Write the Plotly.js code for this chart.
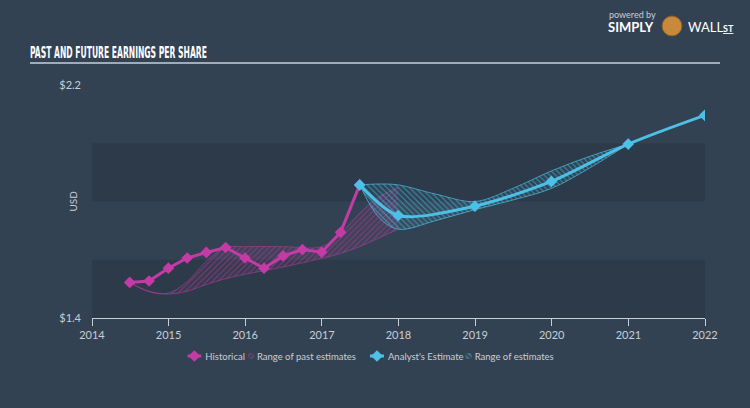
<!DOCTYPE html>
<html>
<head>
<meta charset="utf-8">
<script src="https://cdn.plot.ly/plotly-3.0.1.min.js"></script>
<style>
html,body{margin:0;padding:0;background:#334252;}
#chart{width:750px;height:408px;}
</style>
</head>
<body>
<div id="chart"></div>
<script>
// ---- data ----
const histDates = ["2014-06-30","2014-09-30","2014-12-31","2015-03-31","2015-06-30","2015-09-30","2015-12-31","2016-03-31","2016-06-30","2016-09-30","2016-12-31","2017-03-31","2017-06-30"];
const histEPS   = [1.522,1.527,1.571,1.606,1.625,1.642,1.606,1.571,1.613,1.635,1.626,1.694,1.857];

const pastRangeDates = ["2014-06-30","2014-09-30","2014-12-31","2015-03-31","2015-06-30","2015-09-30","2015-12-31","2016-06-30","2016-12-31","2017-03-31","2017-06-30","2017-09-30","2017-12-31"];
const pastRangeLow   = [1.522,1.490,1.482,1.492,1.515,1.535,1.550,1.575,1.605,1.622,1.645,1.675,1.705];
const pastRangeHigh  = [1.522,1.492,1.486,1.525,1.595,1.642,1.645,1.645,1.645,1.690,1.760,1.815,1.848];

const estDates = ["2017-06-30","2017-12-31","2018-12-31","2019-12-31","2020-12-31","2021-12-31"];
const estEPS   = [1.857,1.752,1.784,1.869,1.997,2.096];

const estRangeDates = ["2017-06-30","2017-09-30","2017-12-31","2018-06-30","2018-12-31","2019-06-30","2019-12-31","2020-06-30","2020-12-31"];
const estRangeLow   = [1.857,1.745,1.705,1.735,1.772,1.805,1.845,1.915,1.997];
const estRangeHigh  = [1.857,1.860,1.857,1.825,1.800,1.845,1.905,1.955,1.997];

const yTickVals = [1.4, 2.2];
const yTickText = ["$1.4", "$2.2"];

// ---- styles ----
const MAG = "#c43ba6";
const CYAN = "#4cc0e6";
const TXT = "#c9ced6";
const FONT = "Lato, 'Open Sans', sans-serif";

const traces = [
  {x: pastRangeDates, y: pastRangeLow, type: "scatter", mode: "lines",
   line: {color: "rgba(196,59,166,0.5)", width: 1, shape: "spline"},
   showlegend: false, hoverinfo: "skip"},
  {x: pastRangeDates, y: pastRangeHigh, type: "scatter", mode: "lines",
   name: "Range of past estimates", legendrank: 2,
   line: {color: "rgba(196,59,166,0.5)", width: 1, shape: "spline"},
   fill: "tonexty", fillcolor: "rgba(196,59,166,0.22)",
   fillpattern: {shape: "/", fgcolor: "rgba(196,59,166,0.5)", bgcolor: "rgba(196,59,166,0.08)", size: 4, solidity: 0.25},
   hoverinfo: "skip"},
  {x: estRangeDates, y: estRangeLow, type: "scatter", mode: "lines",
   line: {color: "rgba(76,192,230,0.7)", width: 1, shape: "spline"},
   showlegend: false, hoverinfo: "skip"},
  {x: estRangeDates, y: estRangeHigh, type: "scatter", mode: "lines",
   name: "Range of estimates", legendrank: 4,
   line: {color: "rgba(76,192,230,0.7)", width: 1, shape: "spline"},
   fill: "tonexty", fillcolor: "rgba(76,192,230,0.25)",
   fillpattern: {shape: "\\", fgcolor: "rgba(76,192,230,0.6)", bgcolor: "rgba(76,192,230,0.08)", size: 4, solidity: 0.25},
   hoverinfo: "skip"},
  {x: histDates, y: histEPS, type: "scatter", mode: "lines+markers",
   name: "Historical", legendrank: 1,
   line: {color: MAG, width: 3},
   marker: {symbol: "diamond", size: 9, color: MAG},
   hoverinfo: "skip"},
  {x: estDates, y: estEPS, type: "scatter", mode: "lines+markers",
   name: "Analyst's Estimate", legendrank: 3,
   line: {color: CYAN, width: 3, shape: "spline", smoothing: 0.8},
   marker: {symbol: "diamond", size: 9, color: CYAN},
   hoverinfo: "skip"}
];

const layout = {
  width: 750, height: 408,
  paper_bgcolor: "#334252",
  plot_bgcolor: "rgba(0,0,0,0)",
  margin: {l: 92, r: 45, t: 85, b: 90},
  font: {family: FONT, color: TXT, size: 11},
  title: {text: "PAST AND FUTURE EARNINGS PER SHARE",
          font: {family: "'DejaVu Sans Condensed', 'Liberation Sans Narrow', sans-serif", size: 16, color: "#ffffff", weight: 700},
          x: 30/750, xanchor: "left", xref: "container",
          y: 1 - 52/408, yanchor: "middle", yref: "container"},
  xaxis: {type: "date", range: ["2014-01-01", "2022-01-01"],
          dtick: "M12", tick0: "2014-01-01", tickformat: "%Y",
          showline: true, linecolor: "#c9ced6", linewidth: 1,
          ticks: "outside", ticklen: 7, tickcolor: "#c9ced6",
          showgrid: false, zeroline: false,
          tickfont: {size: 11, color: TXT, family: FONT}},
  yaxis: {range: [1.4, 2.2], tickvals: yTickVals, ticktext: yTickText,
          showgrid: false, zeroline: false, showline: false, ticks: "",
          ticklabelstandoff: 10,
          tickfont: {size: 11, color: TXT, family: FONT}},
  showlegend: true,
  legend: {orientation: "h", xref: "container", x: 0.495, xanchor: "center",
           yref: "container", y: 1 - 356/408, yanchor: "middle",
           font: {size: 9.5, color: TXT, family: FONT},
           bgcolor: "rgba(0,0,0,0)", itemwidth: 30, traceorder: "normal"},
  hovermode: false,
  shapes: [
    {type: "rect", xref: "paper", yref: "y", x0: 0, x1: 1, y0: 1.4, y1: 1.6,
     fillcolor: "rgba(20,30,40,0.2)", line: {width: 0}, layer: "below"},
    {type: "rect", xref: "paper", yref: "y", x0: 0, x1: 1, y0: 1.8, y1: 2.0,
     fillcolor: "rgba(20,30,40,0.2)", line: {width: 0}, layer: "below"},
    {type: "line", xref: "paper", yref: "paper", x0: (30-92)/613, x1: (720-92)/613,
     y0: (318-63)/233, y1: (318-63)/233, line: {color: "#c9d0d8", width: 1.5}},
    // mascot placeholder
    {type: "circle", xref: "paper", yref: "paper",
     x0: (662-92)/613, x1: (682-92)/613, y0: (318-36)/233, y1: (318-16)/233,
     fillcolor: "#c78a3c", line: {color: "#8a5a25", width: 1}}
  ],
  annotations: [
    {text: "USD", xref: "paper", yref: "paper", x: (64-92)/613, y: 0.5,
     textangle: -90, showarrow: false, font: {size: 10, color: TXT, family: FONT}},
    {text: "powered by", xref: "paper", yref: "paper", x: (607-92)/613, y: (318-14)/233,
     xanchor: "left", yanchor: "middle", showarrow: false,
     font: {size: 9, color: "#c9ced6", family: "Lato, sans-serif"}},
    {text: "<b>SIMPLY</b>", xref: "paper", yref: "paper", x: (606-92)/613, y: (318-27)/233,
     xanchor: "left", yanchor: "middle", showarrow: false,
     font: {size: 13, color: "#ffffff", family: "Lato, sans-serif"}},
    {text: "WALL<span style='font-size:9px'><b><u>ST</u></b></span>", xref: "paper", yref: "paper", x: (686-92)/613, y: (318-27)/233,
     xanchor: "left", yanchor: "middle", showarrow: false,
     font: {size: 13, color: "#ffffff", family: "Lato, sans-serif"}}
  ]
};

function getXY(el) {
  const t = el.getAttribute("transform") || "";
  const m = t.match(/translate\(\s*([-\d.e]+)[ ,]+([-\d.e]+)/);
  return m ? [parseFloat(m[1]), parseFloat(m[2])] : [0, 0];
}

function tweak(gd) {
  // condense title
  const title = gd.querySelector(".gtitle");
  if (title) {
    const w = title.getBBox().width;
    const x0 = parseFloat(title.getAttribute("x")) || 30;
    const s = 177 / w;
    title.setAttribute("transform", `translate(${x0},0) scale(${s},1) translate(${-x0},0)`);
  }
  // compact legend
  const legend = gd.querySelector(".legend");
  if (!legend) return;
  const items = Array.from(legend.querySelectorAll(".traces"));
  const gaps = [3, 14, 2, 0];
  let start = items.length ? getXY(items[0])[0] : 0;
  let cur = start;
  items.forEach((it, i) => {
    const txt = it.querySelector(".legendtext");
    const isFill = /Range/.test(txt.textContent);
    let tx;
    if (isFill) {
      it.querySelectorAll(".legendfill path").forEach(p => p.setAttribute("d", "M0,-3h6v6h-6z"));
      it.querySelectorAll(".legendlines path").forEach(p => p.style.display = "none");
      tx = 9;
    } else {
      it.querySelectorAll(".legendlines path").forEach(p => p.setAttribute("d", "M0,0h14"));
      it.querySelectorAll(".legendpoints path").forEach(p => p.setAttribute("transform", "translate(7,0)"));
      tx = 18;
    }
    txt.setAttribute("x", tx);
    txt.querySelectorAll("tspan").forEach(ts => { if (ts.hasAttribute("x")) ts.setAttribute("x", tx); });
    const tw = txt.getComputedTextLength ? txt.getComputedTextLength() : txt.getBBox().width;
    const y = getXY(it)[1];
    it.setAttribute("transform", `translate(${cur},${y})`);
    cur += tx + tw + (gaps[i] || 0);
  });
  const total = cur - start;
  const [lx, ly] = getXY(legend);
  legend.setAttribute("transform", `translate(${370.5 - total/2 - start},${ly})`);
}

Plotly.newPlot("chart", traces, layout, {displayModeBar: false, staticPlot: true}).then(tweak);
</script>
</body>
</html>
